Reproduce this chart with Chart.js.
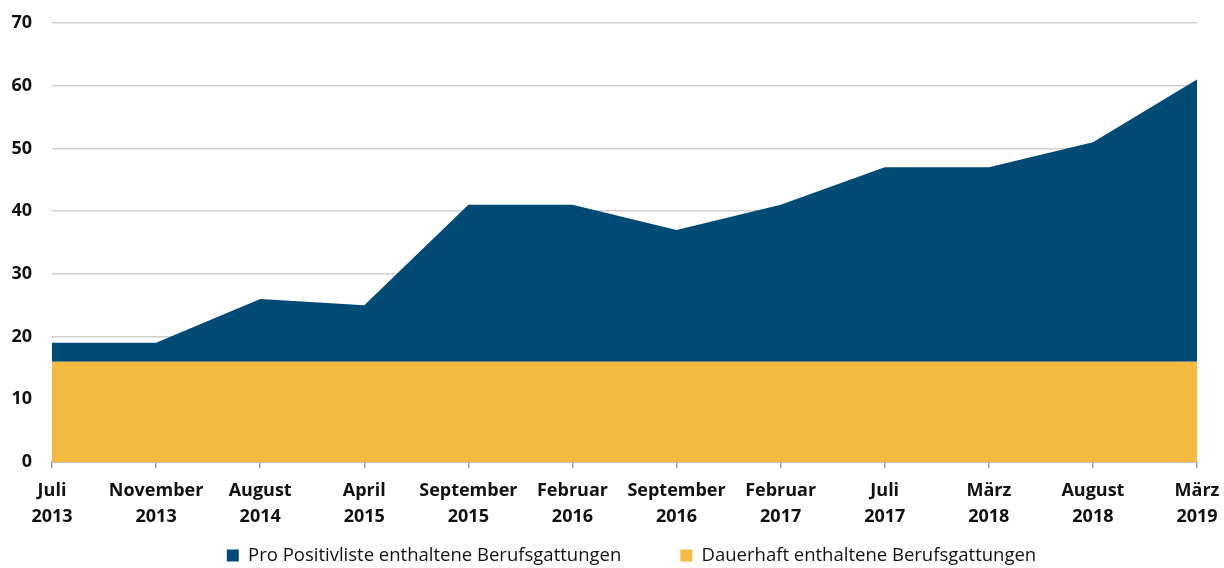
<!DOCTYPE html>
<html>
<head>
<meta charset="utf-8">
<script src="https://cdn.jsdelivr.net/npm/chart.js@4/dist/chart.umd.min.js"></script>
<style>
html,body{margin:0;padding:0;background:#fff;}
#wrap{width:1224px;height:568px;position:relative;}
</style>
</head>
<body>
<div id="wrap"><canvas id="c" width="1224" height="568"></canvas></div>
<script>
const categories = [
  ["Juli","2013"],["November","2013"],["August","2014"],["April","2015"],
  ["September","2015"],["Februar","2016"],["September","2016"],["Februar","2017"],
  ["Juli","2017"],["März","2018"],["August","2018"],["März","2019"]
];
const dauerhaft = [16,16,16,16,16,16,16,16,16,16,16,16];
const positivliste = [3,3,10,9,25,25,21,25,31,31,35,45];
const yTicks = [0,10,20,30,40,50,60,70];

const FONT = "'Open Sans', 'Noto Sans', sans-serif";

// Raises the legend's top edge so its row sits where the reference places it
// (legend label padding sets both the vertical offset and the gap between items).
const legendPlace = {
  id: 'legendPlace',
  afterLayout(chart) {
    const l = chart.legend;
    if (!l) return;
    const pad = l.options.labels.padding;
    const fs = l.options.labels.font.size;
    const dy = (555.5 - fs / 2) - (l.top + pad);
    l.top += dy;
    l.height = l.bottom - l.top;
    const dx = 7;
    l.left += dx; l.right += dx;
  }
};

new Chart(document.getElementById('c'), {
  type: 'line',
  data: {
    labels: categories,
    datasets: [
      {
        label: 'Dauerhaft enthaltene Berufsgattungen',
        data: dauerhaft,
        backgroundColor: '#F5BA3F',
        borderWidth: 0,
        pointRadius: 0,
        fill: 'origin',
        tension: 0
      },
      {
        label: 'Pro Positivliste enthaltene Berufsgattungen',
        data: positivliste,
        backgroundColor: '#004B76',
        borderWidth: 0,
        pointRadius: 0,
        fill: '-1',
        tension: 0
      }
    ]
  },
  plugins: [legendPlace],
  options: {
    responsive: false,
    animation: false,
    layout: { padding: { top: 23, right: 27, left: 0, bottom: 0 } },
    plugins: {
      legend: {
        position: 'bottom',
        reverse: true,
        fullSize: false,
        maxHeight: 42,
        labels: {
          boxWidth: 12, boxHeight: 12, padding: 59,
          color: '#111',
          font: { family: FONT, size: 18.5 }
        }
      },
      tooltip: { enabled: false }
    },
    scales: {
      x: {
        offset: false,
        afterFit: (s) => { s.height = 64; s.paddingLeft = 0; s.paddingRight = 0; },
        grid: { display: true, drawOnChartArea: false, drawTicks: true, tickLength: 6, color: '#999', lineWidth: 1.5 },
        border: { display: true, color: '#999', width: 1.5 },
        ticks: {
          color: '#111', maxRotation: 0, autoSkip: false, padding: 10,
          font: { family: FONT, size: 18, weight: 'bold', lineHeight: 1.44 }
        }
      },
      y: {
        stacked: true,
        min: 0, max: 70,
        afterBuildTicks: (s) => { s.ticks = yTicks.map(v => ({ value: v })); },
        afterFit: (s) => { s.width = 52; s.paddingTop = 0; },
        grid: { color: '#d0d0d0', lineWidth: 1.5, drawTicks: false },
        border: { display: false },
        ticks: {
          color: '#111', padding: 20,
          font: { family: FONT, size: 18, weight: 'bold' }
        }
      }
    }
  }
});
</script>
</body>
</html>
